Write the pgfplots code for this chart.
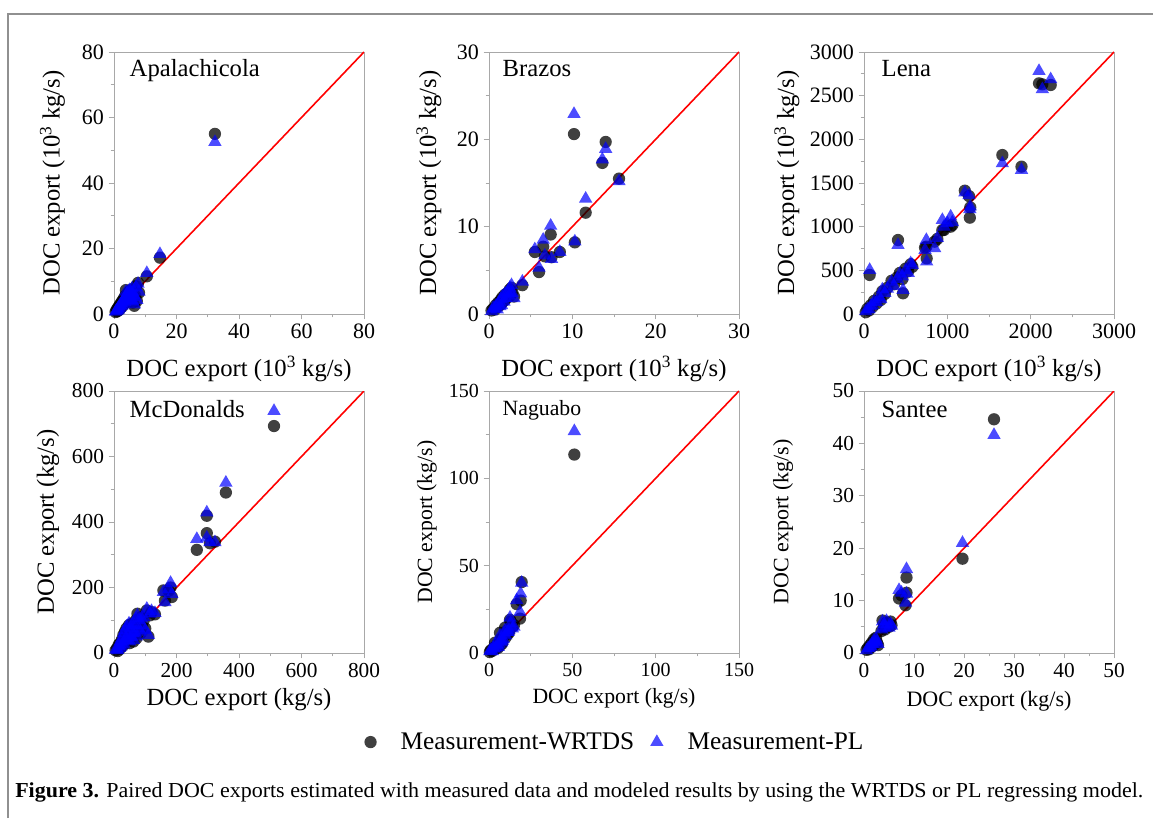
\documentclass[border=0pt]{standalone}
\usepackage{fontspec}
\setmainfont{Liberation Serif}
\usepackage{pgfplots}
\usepackage{pgfplotstable}
\pgfplotsset{compat=1.18}
\newcommand\fs[1]{\fontsize{#1}{#1}\selectfont}
\definecolor{framegray}{HTML}{909090}
\definecolor{axgray}{HTML}{A8A8A8}

% x, WRTDS, PL
\pgfplotstableread{
x w p
0.5 0.6 0.7
0.8 1.2 1.0
1.0 0.8 1.1
1.2 1.8 1.6
1.4 1.1 1.3
1.6 2.4 2.2
1.8 1.5 1.8
2.0 3.0 2.7
2.2 2.0 2.4
2.4 3.6 3.3
2.6 2.3 2.6
2.8 4.2 4.0
3.0 2.8 3.1
3.2 4.8 4.5
3.4 3.3 3.6
3.6 5.5 5.2
3.8 7.3 6.8
4.0 3.8 4.1
4.2 6.0 6.2
4.4 4.5 4.3
4.6 6.6 6.9
4.8 5.2 5.0
5.0 7.0 7.3
5.2 4.0 4.4
5.4 6.2 6.5
5.6 5.0 5.3
5.8 7.5 7.8
6.0 3.5 3.8
6.2 6.0 5.8
6.5 2.5 2.9
6.8 5.5 5.2
7.0 8.5 8.2
7.3 4.0 4.3
7.7 9.5 9.2
8.0 6.5 6.8
10.5 11.5 12.5
14.7 17.2 18.3
32.3 55.0 52.5
}\apa

\pgfplotstableread{
x w p
0.3 0.4 0.3
0.5 0.6 0.7
0.7 0.5 0.6
0.8 1.0 0.9
1.0 0.8 0.5
1.1 1.3 1.2
1.3 1.0 0.9
1.4 1.6 1.7
1.5 1.2 1.0
1.6 1.9 2.0
1.8 1.5 1.4
1.9 2.2 2.3
2.0 1.7 1.8
2.2 2.4 2.5
2.4 2.0 2.1
2.5 2.8 3.0
2.6 2.2 2.4
2.7 3.0 3.3
2.8 2.5 2.4
3.0 2.0 1.8
4.0 3.3 3.7
5.5 7.1 7.4
6.0 4.8 5.3
6.5 7.7 8.5
6.7 6.6 6.7
7.5 6.5 6.3
7.4 9.1 10.1
8.5 7.1 7.1
10.3 8.2 8.3
10.2 20.6 22.9
11.6 11.6 13.2
13.6 17.3 17.7
14.0 19.7 18.9
15.6 15.5 15.2
}\bra

\pgfplotstableread{
x w p
20 20 30
40 60 50
60 40 55
68 447 504
80 100 90
100 80 100
120 150 140
150 120 135
180 200 190
200 160 170
220 260 280
250 230 240
280 300 290
330 380 370
360 340 320
400 420 400
408 847 790
430 470 460
460 400 430
468 237 275
500 520 500
530 490 470
560 570 580
580 540 560
732 760 733
748 771 847
752 637 600
848 828 752
880 860 870
940 960 1076
960 962 1000
1000 1010 1040
1040 1000 1115
1060 1019 1050
1210 1412 1390
1260 1350 1360
1275 1221 1230
1270 1103 1200
1660 1820 1725
1890 1687 1650
2100 2641 2782
2140 2630 2573
2240 2622 2687
}\len

\pgfplotstableread{
x w p
5 8 10
10 15 12
12 6 8
15 25 22
18 12 15
20 30 35
22 18 20
25 40 45
28 22 25
30 55 60
32 30 28
35 65 70
38 42 45
40 75 80
42 35 38
45 60 55
48 85 90
50 30 35
52 70 75
55 45 48
58 90 85
60 55 60
62 35 40
65 80 85
68 60 62
70 100 105
72 45 50
75 120 115
78 70 75
80 95 100
85 60 65
88 110 105
90 80 85
95 100 110
100 75 70
105 130 135
110 50 55
115 115 120
120 125 128
131 118 122
158 191 186
163 160 155
175 190 195
181 200 214
185 171 180
265 315 348
297 366 352
297 419 429
307 335 338
323 340 338
358 490 520
512 693 739
}\mcd

\pgfplotstableread{
x w p
0.5 0.5 1.0
1.0 1.5 1.8
2.0 1.2 1.0
2.5 2.5 3.0
3.0 3.0 2.5
3.6 5.9 5.0
4.0 2.5 3.0
5.0 5.0 4.5
5.5 3.0 3.5
6.0 4.0 5.0
6.6 11.6 10.0
7.0 8.0 7.0
7.5 5.0 6.0
8.0 6.0 7.0
8.5 9.0 8.0
9.0 10.0 11.0
9.6 14.5 13.0
10.0 9.0 10.0
11.0 13.0 12.0
11.5 11.0 12.0
12.0 12.0 13.0
12.6 19.0 20.2
13.0 18.0 17.0
14.0 15.0 14.0
15.0 16.0 15.0
16.6 28.0 30.2
18.6 19.7 23.5
19.0 30.0 34.0
19.6 40.6 40.2
51.2 113.6 127.0
}\nag

\pgfplotstableread{
x w p
0.5 0.6 0.5
0.8 1.0 0.9
1.0 0.7 0.9
1.2 1.5 1.3
1.4 1.1 1.2
1.6 2.0 1.8
1.8 1.4 1.6
2.0 2.6 2.4
2.2 1.8 2.0
2.4 2.9 2.7
2.6 2.0 2.2
2.8 1.5 1.7
3.5 4.2 4.5
3.7 6.2 6.0
4.0 5.0 5.5
4.2 4.5 4.8
4.5 5.8 6.1
5.0 5.0 4.8
5.3 6.0 5.6
5.5 5.3 5.2
7.0 10.4 12.0
7.5 11.0 11.5
8.3 9.1 9.6
8.5 11.5 11.3
8.5 14.4 16.0
19.7 18.0 21.0
26.0 44.6 41.6
}\san

\pgfplotsset{
  panel/.style={
    scale only axis, width=187.5pt, height=196.5pt,
    anchor=south west,
    xmin=0, ymin=0,
    axis line style={draw=axgray, line width=0.7pt},
    every tick/.style={draw=axgray, line width=0.7pt},
    tick align=outside, xtick pos=bottom, ytick pos=left,
    major tick length=4pt, minor tick length=2.5pt,
    minor tick num=1,
    scaled ticks=false,
    /pgf/number format/assume math mode=true,
    /pgf/number format/1000 sep={},
    ylabel style={rotate=0, anchor=center},
    xlabel style={anchor=center},
  },
  circ/.style={only marks, mark=*, mark size=4.6pt, color=black,
    mark options={fill=black, fill opacity=0.75, draw opacity=0}},
  tri/.style={only marks, mark=triangle*, mark size=5.8pt, color=blue,
    mark options={fill=blue, fill opacity=0.7, draw opacity=0}},
  diag/.style={red, line width=1.2pt, forget plot},
}

\begin{document}
\begin{tikzpicture}
\useasboundingbox (0,0) rectangle (864.75pt,613.5pt);
\draw[framegray, line width=1.5pt] (6pt,0) -- (6pt,603pt) -- (864.75pt,603pt);

% Apalachicola
\begin{axis}[panel, at={(85.5pt,378pt)},
  xmax=80, ymax=80, xtick={0,20,...,80}, ytick={0,20,...,80},
  tick label style={font=\fs{16.5}},
  label style={font=\fs{18.5}},
  xlabel={DOC export (10\textsuperscript{3} kg/s)},
  ylabel={DOC export (10\textsuperscript{3} kg/s)},
  xlabel style={at={(axis description cs:0.5,-0.21)}},
  ylabel style={at={(axis description cs:-0.246,0.5)}}]
\addplot[circ] table[x=x,y=w] {\apa};
\addplot[tri] table[x=x,y=p] {\apa};
\addplot[diag] coordinates {(0,0) (80,80)};
\node[anchor=base west, font=\fs{18.5}] at (rel axis cs:0.044,0.905) {Apalachicola};
\end{axis}

% Brazos
\begin{axis}[panel, at={(366.75pt,378pt)},
  xmax=30, ymax=30, xtick={0,10,20,30}, ytick={0,10,20,30},
  tick label style={font=\fs{16.5}},
  label style={font=\fs{18.5}},
  xlabel={DOC export (10\textsuperscript{3} kg/s)},
  ylabel={DOC export (10\textsuperscript{3} kg/s)},
  xlabel style={at={(axis description cs:0.5,-0.21)}},
  ylabel style={at={(axis description cs:-0.24,0.5)}}]
\addplot[circ] table[x=x,y=w] {\bra};
\addplot[tri] table[x=x,y=p] {\bra};
\addplot[diag] coordinates {(0,0) (30,30)};
\node[anchor=base west, font=\fs{18.5}] at (rel axis cs:0.036,0.905) {Brazos};
\end{axis}

% Lena
\begin{axis}[panel, at={(648pt,378pt)},
  xmax=3000, ymax=3000, xtick={0,1000,2000,3000}, ytick={0,500,...,3000},
  tick label style={font=\fs{16.5}},
  label style={font=\fs{18.5}},
  xlabel={DOC export (10\textsuperscript{3} kg/s)},
  ylabel={DOC export (10\textsuperscript{3} kg/s)},
  xlabel style={at={(axis description cs:0.5,-0.21)}},
  ylabel style={at={(axis description cs:-0.308,0.5)}}]
\addplot[circ] table[x=x,y=w] {\len};
\addplot[tri] table[x=x,y=p] {\len};
\addplot[diag] coordinates {(0,0) (3000,3000)};
\node[anchor=base west, font=\fs{18.5}] at (rel axis cs:0.052,0.905) {Lena};
\end{axis}

% McDonalds
\begin{axis}[panel, at={(85.5pt,123.75pt)},
  xmax=800, ymax=800, xtick={0,200,...,800}, ytick={0,200,...,800},
  tick label style={font=\fs{16}},
  label style={font=\fs{18.5}},
  xlabel={DOC export (kg/s)},
  ylabel={DOC export (kg/s)},
  xlabel style={at={(axis description cs:0.5,-0.179)}},
  ylabel style={at={(axis description cs:-0.264,0.5)}}]
\addplot[circ] table[x=x,y=w] {\mcd};
\addplot[tri] table[x=x,y=p] {\mcd};
\addplot[diag] coordinates {(0,0) (800,800)};
\node[anchor=base west, font=\fs{18.5}] at (rel axis cs:0.044,0.897) {McDonalds};
\end{axis}

% Naguabo
\begin{axis}[panel, at={(366.75pt,123.75pt)},
  xmax=150, ymax=150, xtick={0,50,100,150}, ytick={0,50,100,150},
  tick label style={font=\fs{15}},
  label style={font=\fs{16.3}},
  xlabel={DOC export (kg/s)},
  ylabel={DOC export (kg/s)},
  xlabel style={at={(axis description cs:0.5,-0.172)}},
  ylabel style={at={(axis description cs:-0.248,0.5)}},
  legend style={at={(0.505,-0.34)}, anchor=center, draw=none, fill=none,
    legend columns=2, font=\fs{19},
    /tikz/every odd column/.append style={column sep=16pt},
    /tikz/every even column/.append style={column sep=10pt}},
  legend cell align=left]
\addplot[circ] table[x=x,y=w] {\nag};
\addplot[tri] table[x=x,y=p] {\nag};
\addplot[diag] coordinates {(0,0) (150,150)};
\node[anchor=base west, font=\fs{16.3}] at (rel axis cs:0.036,0.905) {Naguabo};
\legend{Measurement-WRTDS, Measurement-PL}
\end{axis}

% Santee
\begin{axis}[panel, at={(648pt,123.75pt)},
  xmax=50, ymax=50, xtick={0,10,...,50}, ytick={0,10,...,50},
  tick label style={font=\fs{16}},
  label style={font=\fs{16.5}},
  xlabel={DOC export (kg/s)},
  ylabel={DOC export (kg/s)},
  xlabel style={at={(axis description cs:0.5,-0.183)}},
  ylabel style={at={(axis description cs:-0.324,0.5)}}]
\addplot[circ] table[x=x,y=w] {\san};
\addplot[tri] table[x=x,y=p] {\san};
\addplot[diag] coordinates {(0,0) (50,50)};
\node[anchor=base west, font=\fs{18.5}] at (rel axis cs:0.052,0.897) {Santee};
\end{axis}

\node[anchor=base west, inner sep=0pt] at (11.25pt,15.75pt)
  {\resizebox{846pt}{\height}{\fs{16}\textbf{Figure 3.} Paired DOC exports estimated with measured data and modeled results by using the WRTDS or PL regressing model.}};
\end{tikzpicture}
\end{document}
